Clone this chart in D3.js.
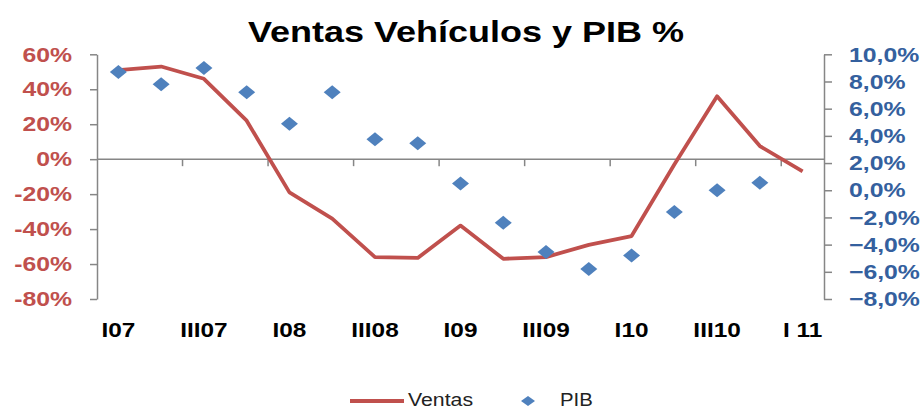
<!DOCTYPE html>
<html>
<head>
<meta charset="utf-8">
<script src="https://cdn.jsdelivr.net/npm/d3@7"></script>
<style>
  body { margin: 0; background: #fff; }
  svg { display: block; font-family: "Liberation Sans", Arial, sans-serif; }
</style>
</head>
<body>
<script>
const quarters = ["I07","II07","III07","IV07","I08","II08","III08","IV08","I09","II09","III09","IV09","I10","II10","III10","IV10","I 11"];
const ventas = [51, 53, 46, 22, -19, -34, -56, -56.5, -38, -57, -56, -49, -44, -3, 36, 7.5, -7];
const pib = [8.7, 7.8, 9.0, 7.2, 4.9, 7.2, 3.75, 3.45, 0.5, -2.4, -4.55, -5.8, -4.8, -1.6, 0.0, 0.55];
const leftTicks = [-80, -60, -40, -20, 0, 20, 40, 60];
const rightTicks = [-8, -6, -4, -2, 0, 2, 4, 6, 8, 10];

const w = 922, h = 410;
const sx = 1.18; // text is drawn a bit wider than normal
const plotL = 97, plotR = 824, plotT = 54.3, plotB = 299;

const svg = d3.select("body").append("svg").attr("width", w).attr("height", h);
svg.append("rect").attr("width", w).attr("height", h).attr("fill", "#fff");

const x = d3.scaleBand().domain(quarters).range([plotL, plotR]);
const yL = d3.scaleLinear().domain([-80, 60]).range([plotB, plotT]);
const yR = d3.scaleLinear().domain([-8, 10]).range([plotB, plotT]);

// title
svg.append("text")
   .attr("transform", "translate(466,42) scale(1.2,1)")
   .attr("text-anchor", "middle")
   .attr("font-size", 30)
   .attr("font-weight", "bold")
   .attr("fill", "#000")
   .text("Ventas Vehículos y PIB %");

// left axis
const gL = svg.append("g").attr("transform", "translate(" + plotL + ",0)")
   .call(d3.axisLeft(yL).tickValues(leftTicks).tickSize(7).tickSizeOuter(0).tickFormat(d => d + "%"));
gL.selectAll("text")
   .attr("x", -25 / sx)
   .attr("transform", "scale(" + sx + ",1)")
   .attr("font-size", 21).attr("font-weight", "bold").attr("fill", "#C0504D")
   .attr("font-family", "Liberation Sans, Arial, sans-serif");

// right axis
const gR = svg.append("g").attr("transform", "translate(" + plotR + ",0)")
   .call(d3.axisRight(yR).tickValues(rightTicks).tickSize(8).tickSizeOuter(0)
      .tickFormat(d => d3.format(".1f")(d).replace(".", ",") + "%"));
gR.selectAll("text")
   .attr("x", 25 / sx)
   .attr("transform", "scale(" + sx + ",1)")
   .attr("font-size", 21).attr("font-weight", "bold").attr("fill", "#34609E")
   .attr("font-family", "Liberation Sans, Arial, sans-serif");

[gL, gR].forEach(g => {
   g.select(".domain").attr("stroke", "#868686").attr("stroke-width", 1.5);
   g.selectAll(".tick line").attr("stroke", "#868686").attr("stroke-width", 1.5);
});

// category axis at 0%
const y0 = yL(0);
svg.append("line")
   .attr("x1", plotL).attr("x2", plotR).attr("y1", y0).attr("y2", y0)
   .attr("stroke", "#868686").attr("stroke-width", 1.5);
svg.selectAll(".xtick")
   .data(quarters.filter((d, i) => i > 0 && i % 2 === 0))
   .enter().append("line")
   .attr("x1", d => x(d)).attr("x2", d => x(d))
   .attr("y1", y0).attr("y2", y0 + 7)
   .attr("stroke", "#868686").attr("stroke-width", 1.5);
svg.selectAll(".xlab")
   .data(quarters.filter((d, i) => i % 2 === 0))
   .enter().append("text")
   .attr("transform", d => "translate(" + (x(d) + x.bandwidth() / 2) + ",337) scale(1.22,1)")
   .attr("text-anchor", "middle")
   .attr("font-size", 20).attr("font-weight", "bold").attr("fill", "#000")
   .text(d => d);

// Ventas line
const line = d3.line()
   .x((d, i) => x(quarters[i]) + x.bandwidth() / 2)
   .y(d => yL(d));
svg.append("path")
   .datum(ventas)
   .attr("d", line)
   .attr("fill", "none")
   .attr("stroke", "#C0504D")
   .attr("stroke-width", 3.8)
   .attr("stroke-linejoin", "round");

// PIB markers
const diamond = "M0,-7L8.5,0L0,7L-8.5,0Z";
svg.selectAll(".pib")
   .data(pib)
   .enter().append("path")
   .attr("transform", (d, i) => "translate(" + (x(quarters[i]) + x.bandwidth() / 2) + "," + yR(d) + ")")
   .attr("d", diamond)
   .attr("fill", "#4F81BD");

// legend
svg.append("line")
   .attr("x1", 350).attr("x2", 404).attr("y1", 401).attr("y2", 401)
   .attr("stroke", "#C0504D").attr("stroke-width", 3.8);
svg.append("text")
   .attr("transform", "translate(408,406) scale(1.15,1)")
   .attr("font-size", 18.5).attr("fill", "#222")
   .text("Ventas");
svg.append("path")
   .attr("transform", "translate(528,401)")
   .attr("d", "M0,-5L7,0L0,5L-7,0Z")
   .attr("fill", "#4F81BD");
svg.append("text")
   .attr("transform", "translate(560,406) scale(1.1,1)")
   .attr("font-size", 18.5).attr("fill", "#222")
   .text("PIB");
</script>
</body>
</html>
